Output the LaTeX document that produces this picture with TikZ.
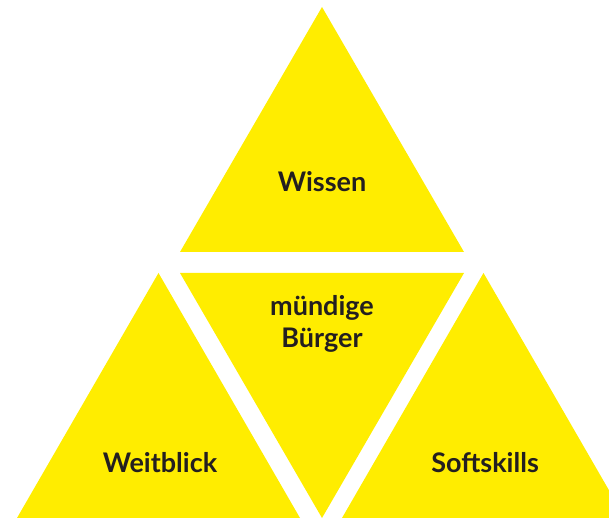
\documentclass[tikz,border=0pt]{standalone}
\usepackage{fontspec}
\setmainfont{Lato}
\definecolor{gelb}{HTML}{FFED00}
\definecolor{schrift}{HTML}{231F20}
\tikzset{
  dreieck/.style={fill=gelb,draw=none},
  beschriftung/.style={text=schrift,font=\bfseries\fontsize{27}{32}\selectfont,align=center}
}
\begin{document}
\begin{tikzpicture}[x=1pt,y=1pt]
  \useasboundingbox (0,0) rectangle (609,518);
  \clip (0,0) rectangle (609,518);
  % Dreiecke
  \fill[dreieck] (180,266) -- (464,266) -- (322,511) -- cycle;
  \fill[dreieck] (180,245) -- (464,245) -- (322,0) -- cycle;
  \fill[dreieck] (17,0) -- (300,0) -- (158.5,245) -- cycle;
  \fill[dreieck] (342,0) -- (625,0) -- (483.5,245) -- cycle;
  % Beschriftungen
  \draw
    (322,336) node[beschriftung] (wissen){Wissen}
    (322,194) node[beschriftung] (buerger){mündige\\Bürger}
    (160,55) node[beschriftung] (weitblick){Weitblick}
    (485,55) node[beschriftung] (softskills){Softskills};
\end{tikzpicture}
\end{document}
